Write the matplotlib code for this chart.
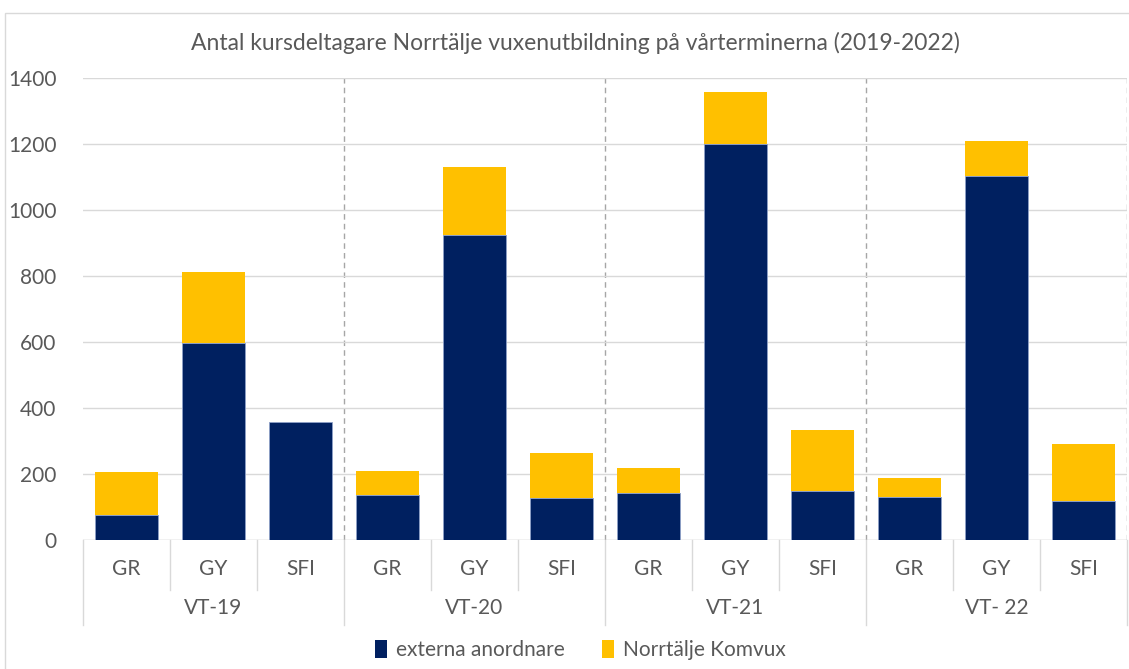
import matplotlib
matplotlib.use("Agg")
import matplotlib.pyplot as plt
import matplotlib.transforms as mtransforms
from matplotlib.patches import Rectangle, Patch

plt.rcParams['font.family'] = ['Lato', 'DejaVu Sans']

terms = ["VT-19", "VT-20", "VT-21", "VT- 22"]
schools = ["GR", "GY", "SFI"]
externa = [76, 596, 357, 135, 925, 127, 141, 1200, 149, 131, 1103, 119]
komvux = [131, 215, 0, 73, 205, 136, 76, 157, 184, 57, 106, 173]

navy = "#002060"
gold = "#FFC000"
grey_txt = "#595959"

fig = plt.figure(figsize=(11.29, 6.69), dpi=100)
ax = fig.add_axes([83 / 1129, 1 - 540 / 669, 1044 / 1129, 462 / 669])

x = list(range(len(externa)))
ax.bar(x, externa, width=0.72, color=navy, edgecolor="#8EA0C8", linewidth=0.6, zorder=3)
ax.bar(x, komvux, width=0.72, bottom=externa, color=gold, linewidth=0, zorder=3)

ax.set_xlim(-0.5, len(x) - 0.5)
ax.set_ylim(0, 1400)
ax.set_yticks(range(0, 1401, 200))
ax.tick_params(axis="y", length=0, labelsize=15, labelcolor=grey_txt, pad=19)
ax.set_xticks([])
ax.grid(axis="y", color="#D9D9D9", linewidth=1, zorder=0)
for s in ax.spines.values():
    s.set_visible(False)
ax.axhline(0, color="#D9D9D9", linewidth=1, zorder=1)

# dashed separators between terms
for b in [2.5, 5.5, 8.5, 11.5]:
    ax.axvline(b, color="#A6A6A6", linestyle=(0, (4, 3)), linewidth=1, zorder=1)

# multi-level category axis
trans = mtransforms.blended_transform_factory(ax.transData, ax.transAxes)
for i in x:
    ax.text(i, -29 / 462, schools[i % 3], transform=trans, ha="center", va="center",
            fontsize=15, color=grey_txt)
for g, t in enumerate(terms):
    ax.text(g * 3 + 1, -68 / 462, t, transform=trans, ha="center", va="center",
            fontsize=15, color=grey_txt)
for b in range(len(x) + 1):
    pos = b - 0.5
    low = -85 / 462 if b % 3 == 0 else -50 / 462
    ax.plot([pos, pos], [0, low], transform=trans, color="#D9D9D9", linewidth=1,
            clip_on=False)

fig.text(575 / 1129, 1 - 43 / 669,
         "Antal kursdeltagare Norrtälje vuxenutbildning på vårterminerna (2019-2022)",
         ha="center", va="center", fontsize=16.5, color=grey_txt)

# chart frame
fig.patches.append(Rectangle((5 / 1129, -0.1), 1.2, 1 - 13 / 669 + 0.1, transform=fig.transFigure,
                             fill=False, edgecolor="#D9D9D9", linewidth=1))

handles = [Patch(facecolor=navy, label="externa anordnare"),
           Patch(facecolor=gold, label="Norrtälje Komvux")]
fig.legend(handles=handles, loc="center", bbox_to_anchor=(580 / 1129, 1 - 650 / 669), ncol=2,
           frameon=False, fontsize=15, labelcolor=grey_txt, handlelength=0.6,
           handleheight=1.0, handletextpad=0.4, columnspacing=1.8)

fig.savefig("out.png", dpi=100)
